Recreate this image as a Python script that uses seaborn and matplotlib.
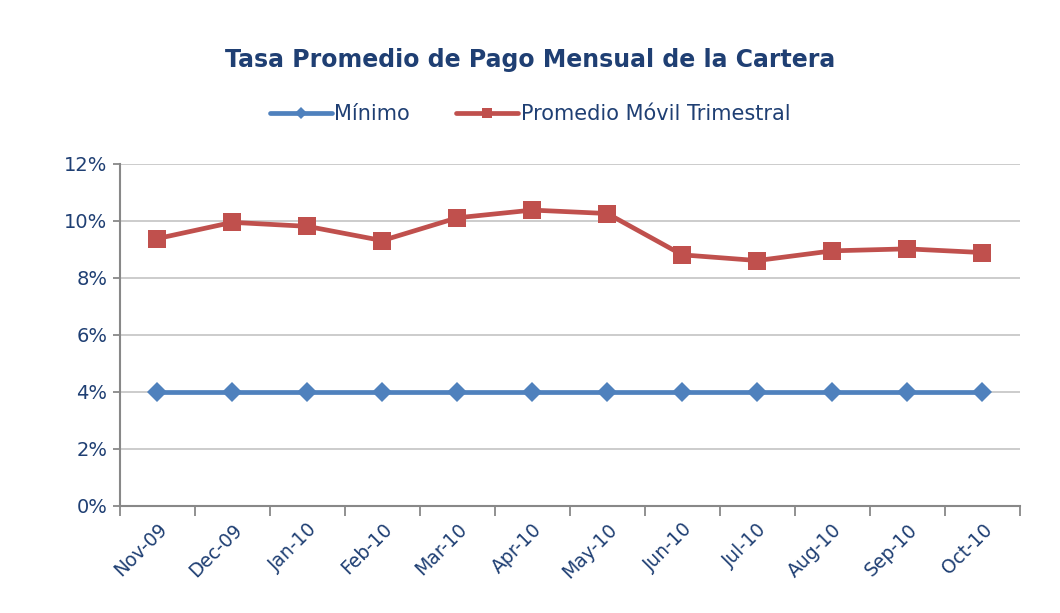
import pandas as pd
import numpy as np
import matplotlib
matplotlib.use("Agg")
import matplotlib.pyplot as plt
import seaborn as sns

# Data
meses = ["Nov-09", "Dec-09", "Jan-10", "Feb-10", "Mar-10", "Apr-10",
         "May-10", "Jun-10", "Jul-10", "Aug-10", "Sep-10", "Oct-10"]
minimo = [4.0] * 12
promedio = [9.38, 9.95, 9.81, 9.31, 10.11, 10.38,
            10.26, 8.81, 8.61, 8.95, 9.02, 8.89]

df = pd.DataFrame({"mes": meses, "Mínimo": minimo,
                   "Promedio Móvil Trimestral": promedio})
long = df.melt(id_vars="mes", var_name="serie", value_name="valor")

sns.set_style("white")
plt.rcParams['font.family'] = ['DejaVu Sans']
text_col = "#1F3F73"

fig = plt.figure(figsize=(10.6, 6.13), dpi=100)
ax = fig.add_axes([0.113, 0.1746, 0.849, 0.558])

sns.lineplot(data=long, x="mes", y="valor", hue="serie", style="serie",
             markers={"Mínimo": "D", "Promedio Móvil Trimestral": "s"},
             dashes=False, sort=False, linewidth=3.4,
             palette={"Mínimo": "#4F81BD", "Promedio Móvil Trimestral": "#C0504D"},
             markersize=13, markeredgewidth=0, ax=ax)

# diamonds a bit smaller than the squares, as in the original
for ln in ax.lines:
    if ln.get_marker() == "D":
        ln.set_markersize(10.5)

ax.set_xlim(-0.5, len(meses) - 0.5)
ax.set_ylim(0, 12)
ax.set_yticks(np.arange(0, 13, 2))
ax.set_yticklabels([f"{v}%" for v in range(0, 13, 2)], fontsize=14, color=text_col)
ax.yaxis.grid(True, color="#C8C8C8", linewidth=1.3)
ax.set_axisbelow(True)

ax.set_xticks(range(len(meses)))
ax.set_xticklabels(meses, rotation=45, ha="right", rotation_mode="anchor",
                   fontsize=13.5, color=text_col)
ax.tick_params(axis="x", which="major", length=0, pad=10)
ax.set_xticks(np.arange(-0.5, len(meses), 1), minor=True)
ax.tick_params(axis="x", which="minor", bottom=True, length=7,
               color="#888888", width=1.3, direction="out")
ax.tick_params(axis="y", length=5, color="#888888", width=1.3, left=True, pad=4)

for s in ["top", "right"]:
    ax.spines[s].set_visible(False)
for s in ["left", "bottom"]:
    ax.spines[s].set_color("#888888")
    ax.spines[s].set_linewidth(1.5)

ax.set_xlabel("")
ax.set_ylabel("")

handles, labels = ax.get_legend_handles_labels()
ax.legend(handles, labels, loc="center", bbox_to_anchor=(0.5, 0.814),
          bbox_transform=fig.transFigure, ncol=2, frameon=False,
          fontsize=15, handlelength=3.0, columnspacing=2.2, handletextpad=0.1,
          labelcolor=text_col, markerscale=0.6)

fig.text(0.5, 0.902, "Tasa Promedio de Pago Mensual de la Cartera", ha="center",
         va="center", fontsize=17, fontweight="bold", color=text_col)

fig.savefig("out.png", dpi=100)
